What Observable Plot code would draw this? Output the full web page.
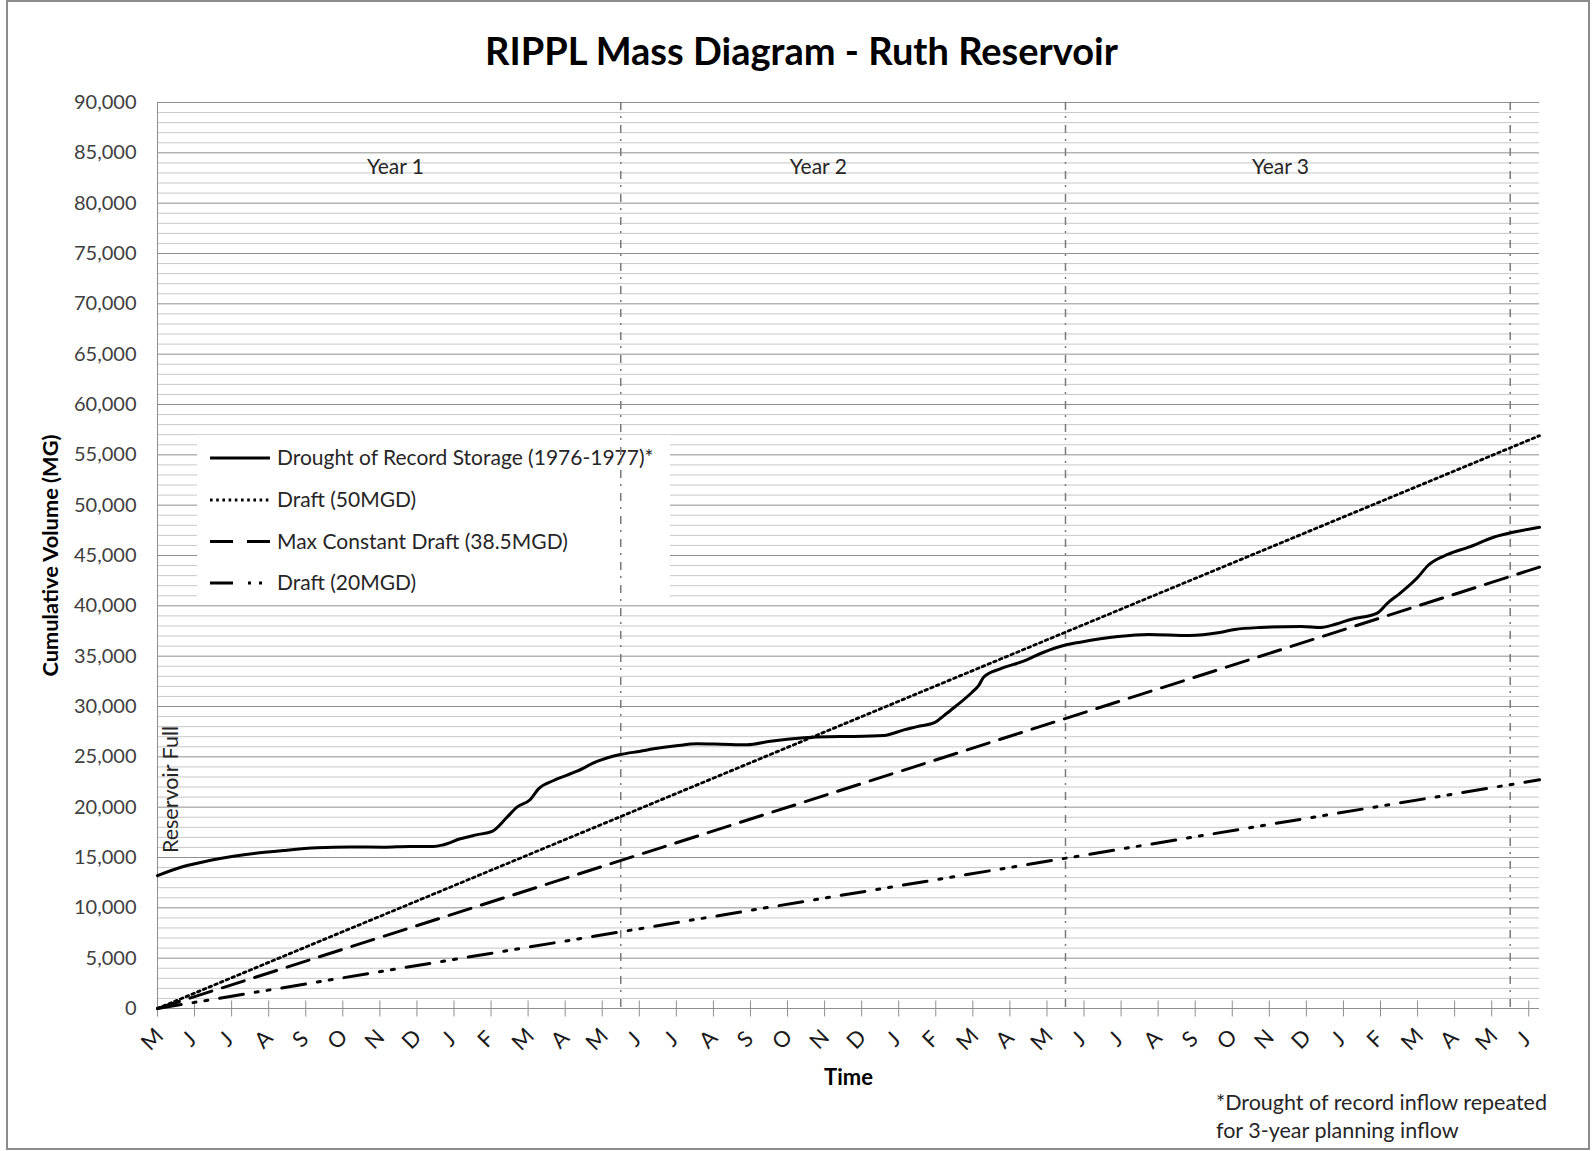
<!DOCTYPE html>
<html>
<head>
<meta charset="utf-8">
<script src="https://cdn.jsdelivr.net/npm/d3@7"></script>
<script src="https://cdn.jsdelivr.net/npm/@observablehq/plot@0.6"></script>
<style>
  html, body { margin: 0; padding: 0; background: #fff; }
  #page { position: relative; width: 1593px; height: 1151px; overflow: hidden; font-family: Lato, "Open Sans", sans-serif; }
  #frame { position: absolute; left: 6px; top: 0px; width: 1584px; height: 1150px; box-sizing: border-box; border: 2px solid #8c8c8c; }
  #title { position: absolute; left: 5px; top: 28px; width: 1593px; text-align: center; font-size: 38px; font-weight: bold; line-height: 44px; color: #000; }
  #chart { position: absolute; left: 0; top: 80px; }
  #note { position: absolute; left: 1216px; top: 1088px; font-size: 21.5px; line-height: 28px; color: #262626; }
</style>
</head>
<body>
<div id="page">
  <div id="frame"></div>
  <div id="title">RIPPL Mass Diagram - Ruth Reservoir</div>
  <div id="chart"></div>
  <div id="note">*Drought of record inflow repeated<br>for 3-year planning inflow</div>
</div>
<script>
// ---- data ----
const monthLabels = ["M","J","J","A","S","O","N","D","J","F","M","A",
                     "M","J","J","A","S","O","N","D","J","F","M","A",
                     "M","J","J","A","S","O","N","D","J","F","M","A",
                     "M","J"];
const yearBoundaries = [12.5, 24.5, 36.5];
const yearLabels = ["Year 1", "Year 2", "Year 3"];
const yearLabelX = [6.42, 17.83, 30.3];

// Drought of Record Storage (cumulative volume, MG) vs month index
const storageMonth = [0, 0.7, 1.4, 2.05, 2.7, 3.4, 4.3, 5.2, 6.1, 6.8, 7.45, 7.7, 8.17, 8.6, 9.03, 9.43, 9.7, 10.06, 10.28, 10.69, 11.32, 11.86, 12.49,
  13.03, 13.39, 14.0, 14.56, 15.2, 15.91, 16.54, 17.44, 18.1, 18.79, 19.6, 20.14, 20.5, 20.99, 21.22, 21.53, 21.98, 22.16, 22.29, 22.74, 23.37, 23.91, 24.45,
  24.9, 25.92, 26.74, 27.84, 28.66, 29.07, 29.76, 30.86, 31.4, 31.68, 32.22, 32.91, 33.19, 33.54, 34.0, 34.28, 34.83, 35.38, 36.07, 36.61, 37.21, 37.29];
const storageVolume = [13200, 14100, 14700, 15130, 15450, 15700, 15960, 16050, 16020, 16100, 16100, 16250, 16860, 17250, 17600, 19000, 20000, 20760, 21820, 22650, 23570, 24540, 25230,
  25560, 25800, 26100, 26290, 26250, 26190, 26550, 26890, 27000, 27020, 27120, 27680, 28000, 28440, 29100, 30000, 31420, 32090, 32910, 33740, 34500, 35390, 36060,
  36390, 36950, 37150, 37050, 37350, 37650, 37850, 37950, 37850, 38060, 38670, 39280, 40280, 41290, 42810, 44010, 45130, 45830, 46840, 47340, 47750, 47800];

// Draft lines (cumulative MG) at start and end of the time axis
const draftMonth = [0, 37.29];
const draft50 = [0, 56900];
const draft385 = [0, 43850];
const draft20 = [0, 22720];

const seriesNames = ["Drought of Record Storage (1976-1977)*", "Draft (50MGD)", "Max Constant Draft (38.5MGD)", "Draft (20MGD)"];

// ---- tables ----
const storage = storageMonth.map((m, i) => ({m, v: storageVolume[i]}));
const d50 = draftMonth.map((m, i) => ({m, v: draft50[i]}));
const d385 = draftMonth.map((m, i) => ({m, v: draft385[i]}));
const d20 = draftMonth.map((m, i) => ({m, v: draft20[i]}));
const monthTicks = monthLabels.map((d, i) => i);
const majorTicks = d3.range(0, 90001, 5000);
const minorTicks = d3.range(0, 90001, 1000).filter(d => d % 5000 !== 0);

// ---- styles ----
const styles = [
  {dash: null, width: 3},
  {dash: "2.6,3.6", width: 2.8},
  {dash: "23,11", width: 3},
  {dash: "24,12,3,9,3,12", width: 3}
];
const legendDash = [null, "2.6,3.6", "23,14", "23,15,3,8,3,40"];

const tickSymbol = { draw(ctx) { ctx.moveTo(0, -8); ctx.lineTo(0, 8); } };

// legend drawn inside the svg, above gridlines, below the year separators
function legendMark() {
  const g = d3.create("svg:g");
  g.append("rect").attr("x", 197).attr("y", 355).attr("width", 473).attr("height", 169).attr("fill", "#fff");
  const rowY = [378, 420, 461.5, 503];
  seriesNames.forEach((name, i) => {
    g.append("line").attr("x1", 210).attr("x2", 270).attr("y1", rowY[i]).attr("y2", rowY[i])
      .attr("stroke", "#000").attr("stroke-width", styles[i].width)
      .attr("stroke-dasharray", legendDash[i]);
    g.append("text").attr("x", 277).attr("y", rowY[i]).attr("dy", "0.35em")
      .attr("text-anchor", "start")
      .attr("font-size", 21).attr("fill", "#262626").text(name);
  });
  return g.node();
}

const chart = Plot.plot({
  width: 1593,
  height: 1020,
  marginLeft: 157,
  marginRight: 54,
  marginTop: 22,
  marginBottom: 92,
  style: {fontFamily: "Lato, 'Open Sans', sans-serif", fontSize: "20px", background: "transparent", overflow: "visible", color: "#404040"},
  x: {domain: [0, 37.29], axis: null},
  y: {domain: [0, 90000]},
  marks: [
    Plot.ruleY(minorTicks, {stroke: "#c8c8c8", strokeWidth: 1}),
    Plot.ruleY(majorTicks, {stroke: "#8f8f8f", strokeWidth: 1}),
    Plot.ruleX([0], {stroke: "#8f8f8f", strokeWidth: 1}),
    legendMark,
    Plot.ruleX(yearBoundaries, {stroke: "#7a7a7a", strokeWidth: 1.5, strokeDasharray: "8,6,2,7"}),
    Plot.dot(monthTicks, {x: d => d, frameAnchor: "bottom", symbol: tickSymbol, stroke: "#8f8f8f", fill: "none", strokeWidth: 1, r: 4}),
    Plot.axisY(majorTicks, {tickSize: 0, tickPadding: 21, tickFormat: d3.format(","), fontSize: 20, fill: "#404040", label: null}),
    Plot.text(monthLabels, {x: (d, i) => i, text: d => d, frameAnchor: "bottom", dy: 36, rotate: -45, fontSize: 22, fill: "#1a1a1a", textAnchor: "middle"}),
    Plot.text(yearLabels, {x: (d, i) => yearLabelX[i], text: d => d, frameAnchor: "top", dy: 57, fontSize: 21, fill: "#262626", textAnchor: "middle"}),
    Plot.text(["Reservoir Full"], {frameAnchor: "bottom-left", dx: 20, dy: -219, rotate: -90, fontSize: 21.5, fill: "#262626", textAnchor: "middle"}),
    Plot.text(["Time"], {frameAnchor: "bottom", dy: 76, fontSize: 22, fontWeight: "bold", fill: "#000", textAnchor: "middle"}),
    Plot.text(["Cumulative Volume (MG)"], {frameAnchor: "left", dx: -106, rotate: -90, fontSize: 21.8, fontWeight: "bold", fill: "#000", textAnchor: "middle"}),
    Plot.line(d20, {x: "m", y: "v", stroke: "#000", strokeWidth: styles[3].width, strokeDasharray: styles[3].dash}),
    Plot.line(d385, {x: "m", y: "v", stroke: "#000", strokeWidth: styles[2].width, strokeDasharray: styles[2].dash}),
    Plot.line(d50, {x: "m", y: "v", stroke: "#000", strokeWidth: styles[1].width, strokeDasharray: styles[1].dash}),
    Plot.line(storage, {x: "m", y: "v", stroke: "#000", strokeWidth: styles[0].width, curve: "monotone-x"})
  ]
});
document.getElementById("chart").appendChild(chart);
</script>
</body>
</html>
